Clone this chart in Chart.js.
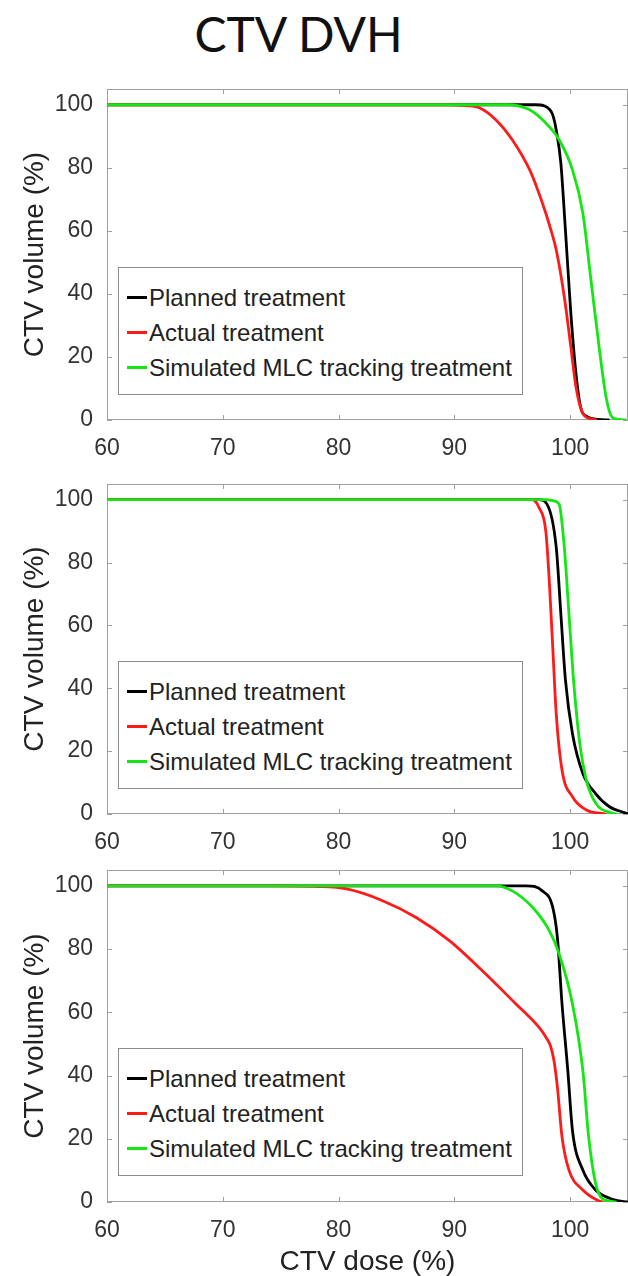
<!DOCTYPE html>
<html lang="en">
<head>
  <meta charset="UTF-8">
  <title>CTV DVH</title>
  <script src="https://cdn.jsdelivr.net/npm/chart.js"></script>
  <style>
    * { margin: 0; padding: 0; box-sizing: border-box; }
    body { width: 628px; height: 1276px; background: #fff; position: relative; overflow: hidden;
      font-family: "Liberation Sans", Arial, sans-serif; }
    h1 {
      position: absolute; left: 0; width: 597px; top: 10px;
      font: 400 48px/48px Lato, sans-serif; color: #111; text-align: center;
    }
    .panel { position: absolute; left: 0; width: 628px; }
    .legend {
      position: absolute; left: 118px; width: 405px; height: 128px;
      border: 1px solid #8c8c8c; background: #fff; padding-top: 12px;
    }
    .legend div { display: flex; align-items: center; height: 35px; font-size: 24px; color: #222; }
    .legend span.swatch { display: inline-block; width: 20px; height: 3px; margin: 0 2px 0 8px; }
  </style>
</head>
<body>
  <h1>CTV DVH</h1>

  <div class="panel" style="top:80px;height:380px"><canvas id="c1" width="628" height="380"></canvas></div>
  <div class="panel" style="top:475px;height:379px"><canvas id="c2" width="628" height="379"></canvas></div>
  <div class="panel" style="top:861px;height:415px"><canvas id="c3" width="628" height="415"></canvas></div>

  <div class="legend" id="lg1" style="top:267px"></div>
  <div class="legend" id="lg2" style="top:661px"></div>
  <div class="legend" id="lg3" style="top:1048px"></div>

  <script>
    const seriesNames = ['Planned treatment', 'Actual treatment', 'Simulated MLC tracking treatment'];
    const seriesColors = ['#000000', '#ff1a1a', '#14e614'];
    const doseTicks = [60, 70, 80, 90, 100];
    const volumeTicks = [0, 20, 40, 60, 80, 100];

    // panel 1
    const p1PlannedDose = [60, 97.0, 97.8, 98.2, 98.5, 98.8, 99.2, 99.6, 100.06, 100.5, 100.9, 101.5, 102.4, 103.4];
    const p1PlannedVol  = [100, 100, 99.6, 98.6, 96.8, 92, 81.5, 60, 34, 15, 4.2, 1.0, 0.2, 0];
    const p1ActualDose  = [60, 89.5, 91.0, 92.2, 93.6, 95.0, 96.5, 97.2, 97.9, 98.3, 98.8, 99.5, 100.06, 100.5, 101.1, 101.9, 102.3];
    const p1ActualVol   = [100, 100, 99.7, 99, 95.2, 88.9, 79.4, 73, 65.6, 60.8, 54, 39, 23.3, 10.6, 2.1, 0.3, 0];
    const p1SimDose     = [60, 94.5, 96.5, 97.9, 99.05, 100.2, 101.1, 101.8, 102.5, 103.1, 103.6, 104.2, 104.8];
    const p1SimVol      = [100, 100, 98.4, 94.2, 88.9, 79.4, 65.6, 44.4, 23.3, 7.4, 1, 0.2, 0];

    // panel 2
    const p2PlannedDose = [60, 97.3, 98.0, 98.8, 99.2, 99.6, 100.2, 101.1, 102.2, 103.4, 104.8, 105];
    const p2PlannedVol  = [100, 100, 98.6, 84.9, 63.7, 42.5, 25.6, 12.9, 6.5, 2.3, 0.3, 0];
    const p2ActualDose  = [60, 96.7, 97.3, 97.9, 98.2, 98.5, 98.8, 99.3, 100.2, 101.4, 103.1];
    const p2ActualVol   = [100, 100, 97.6, 90, 74.3, 53, 32, 14, 5.5, 1.3, 0];
    const p2SimDose     = [60, 97.9, 98.6, 99.05, 99.5, 99.9, 100.3, 100.8, 101.4, 102.2, 103.6, 104];
    const p2SimVol      = [100, 100, 99.6, 98.6, 84.9, 63.7, 42.5, 23.5, 10.8, 3.5, 0.3, 0];

    // panel 3
    const p3PlannedDose = [60, 96.2, 97.6, 98.5, 98.9, 99.3, 99.8, 100.2, 101.1, 102.2, 103.4, 104.5, 105];
    const p3PlannedVol  = [100, 100, 98.4, 93.2, 83.7, 62.7, 41.6, 22.7, 10.1, 3.8, 1.2, 0.2, 0];
    const p3ActualDose  = [60, 75, 78, 80.7, 83.8, 86.7, 89.6, 92.4, 95.3, 97.3, 97.9, 98.3, 98.6, 98.9, 99.3, 99.9, 101.1, 102.5, 102.8];
    const p3ActualVol   = [100, 100, 99.8, 99, 95.3, 90, 82.6, 73.2, 62.7, 55.3, 52.2, 49.4, 44.8, 36.4, 20.6, 10.1, 3.8, 0.3, 0];
    const p3SimDose     = [60, 93.6, 95.0, 96.75, 98.2, 99.05, 100.2, 101.1, 101.6, 102.2, 102.8, 103.6, 104];
    const p3SimVol      = [100, 100, 98.4, 93.2, 85.8, 78.5, 62.7, 41.6, 20.6, 5.9, 1, 0.2, 0];

    const tickFont = { family: 'Liberation Sans, Arial, sans-serif', size: 23 };

    // box round the plot with small inner tick marks, like matlab
    const frame = {
      id: 'frame',
      beforeDatasetsDraw(chart) {
        const { ctx, chartArea: a, scales } = chart;
        ctx.save();
        ctx.strokeStyle = '#a0a0a0';
        ctx.lineWidth = 1;
        ctx.strokeRect(a.left + 0.5, a.top + 0.5, a.right - a.left - 1, a.bottom - a.top - 1);
        ctx.beginPath();
        doseTicks.forEach(v => {
          const x = Math.round(scales.x.getPixelForValue(v)) + 0.5;
          ctx.moveTo(x, a.top); ctx.lineTo(x, a.top + 5);
          ctx.moveTo(x, a.bottom); ctx.lineTo(x, a.bottom - 5);
        });
        volumeTicks.forEach(v => {
          const y = Math.round(scales.y.getPixelForValue(v)) + 0.5;
          ctx.moveTo(a.left, y); ctx.lineTo(a.left + 5, y);
          ctx.moveTo(a.right, y); ctx.lineTo(a.right - 5, y);
        });
        ctx.stroke();
        ctx.restore();
      }
    };

    function makeChart(id, doses, vols, withTitle) {
      const datasets = doses.map((d, i) => ({
        label: seriesNames[i],
        data: d.map((x, j) => ({ x: x, y: vols[i][j] })),
        borderColor: seriesColors[i],
        borderWidth: 2.8,
        pointRadius: 0,
        cubicInterpolationMode: 'monotone',
        fill: false
      }));
      // draw black last so it sits on top
      datasets.reverse();
      return new Chart(document.getElementById(id), {
        type: 'line',
        data: { datasets: datasets },
        options: {
          responsive: false,
          animation: false,
          events: [],
          layout: { padding: { top: 9, left: 0, right: 0, bottom: 0 } },
          plugins: { legend: { display: false }, tooltip: { enabled: false } },
          scales: {
            x: {
              type: 'linear', min: 60, max: 105,
              afterBuildTicks: s => { s.ticks = doseTicks.map(v => ({ value: v })); },
              afterFit: s => { s.height = withTitle ? 74 : 40; },
              grid: { display: false, drawTicks: false },
              border: { display: false },
              ticks: { font: tickFont, color: '#333', padding: 15, maxRotation: 0 },
              title: {
                display: withTitle, text: 'CTV dose (%)', color: '#222',
                font: { family: 'Liberation Sans, Arial, sans-serif', size: 28, lineHeight: 1 },
                padding: { top: 0, bottom: 0 }
              }
            },
            y: {
              min: 0, max: 105,
              afterBuildTicks: s => { s.ticks = volumeTicks.map(v => ({ value: v })); },
              afterFit: s => { s.width = 107; s.paddingTop = 0; s.paddingBottom = 0; },
              grid: { display: false, drawTicks: false },
              border: { display: false },
              ticks: { font: tickFont, color: '#333', padding: 14 },
              title: {
                display: true, text: 'CTV volume (%)', color: '#222',
                font: { family: 'Liberation Sans, Arial, sans-serif', size: 28, lineHeight: 1 },
                padding: { top: 21, bottom: 0 }
              }
            }
          }
        },
        plugins: [frame]
      });
    }

    makeChart('c1', [p1PlannedDose, p1ActualDose, p1SimDose], [p1PlannedVol, p1ActualVol, p1SimVol], false);
    makeChart('c2', [p2PlannedDose, p2ActualDose, p2SimDose], [p2PlannedVol, p2ActualVol, p2SimVol], false);
    makeChart('c3', [p3PlannedDose, p3ActualDose, p3SimDose], [p3PlannedVol, p3ActualVol, p3SimVol], true);

    ['lg1', 'lg2', 'lg3'].forEach(id => {
      const box = document.getElementById(id);
      seriesNames.forEach((name, i) => {
        const row = document.createElement('div');
        const sw = document.createElement('span');
        sw.className = 'swatch';
        sw.style.background = seriesColors[i];
        row.appendChild(sw);
        row.appendChild(document.createTextNode(name));
        box.appendChild(row);
      });
    });
  </script>
</body>
</html>
